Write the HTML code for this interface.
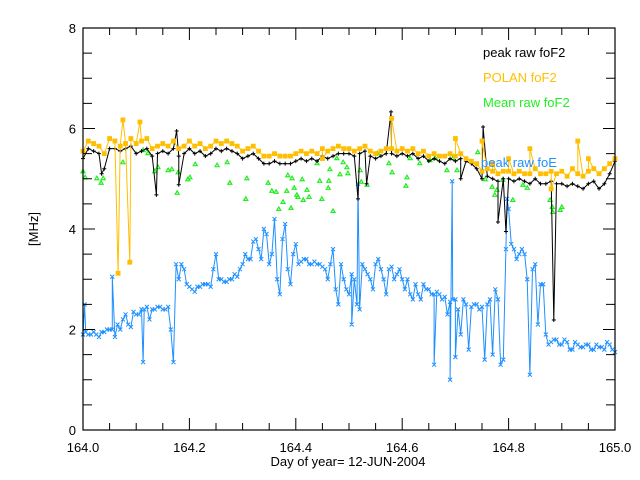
<!DOCTYPE html>
<html><head><meta charset="utf-8"><style>
html,body{margin:0;padding:0;background:#fff;}
svg{display:block;font-family:"Liberation Sans",sans-serif;}
</style></head><body>
<svg id="chart" width="640" height="480" viewBox="0 0 640 480" xmlns="http://www.w3.org/2000/svg">
<rect x="0" y="0" width="640" height="480" fill="#fff"/>
<g id="series"></g>
<g id="axes"></g>
<text x="348" y="466" font-size="13" text-anchor="middle" fill="#000">Day of year= 12-JUN-2004</text>
<text x="0" y="0" font-size="13" text-anchor="middle" fill="#000" transform="translate(38,229) rotate(-90)">[MHz]</text>
<text x="483" y="57" font-size="13" fill="#000">peak raw foF2</text>
<text x="483" y="82" font-size="13" fill="#ffbf00">POLAN foF2</text>
<text x="483" y="107" font-size="13" fill="#22ee22">Mean raw foF2</text>
<text x="481" y="167" font-size="13" fill="#1e90ff">peak raw foE</text>
</svg>
<script>
// ---- data ----
const xStart = 164.0;
const xStep = 0.01;
const xTickLabels = ["164.0","164.2","164.4","164.6","164.8","165.0"];
const yTickLabels = ["0","2","4","6","8"];
const blackBase = [5.4,5.6,5.55,5.5,5.2,5.6,5.6,5.55,5.6,5.65,5.5,5.55,5.6,5.45,5.5,5.55,5.5,5.6,5.45,5.5,5.6,5.5,5.55,5.45,5.5,5.6,5.55,5.6,5.55,5.5,5.4,5.45,5.5,5.4,5.3,5.3,5.35,5.3,5.3,5.3,5.35,5.4,5.35,5.4,5.35,5.45,5.4,5.45,5.5,5.5,5.5,5.45,5.5,5.55,5.45,5.4,5.45,5.5,5.5,5.45,5.5,5.45,5.5,5.4,5.45,5.35,5.4,5.35,5.3,5.4,5.35,5.4,5.35,5.3,5.2,5.0,5.05,5.0,4.95,5.0,5.0,4.95,5.0,4.95,4.9,5.0,4.9,4.9,4.95,4.9,4.9,4.85,4.9,4.85,4.8,4.9,4.95,4.8,4.9,5.1,5.35];
const blackSpikeDays = [164.035,164.138,164.176,164.18,164.517,164.533,164.579,164.71,164.752,164.78,164.795,164.885];
const blackSpikeVals = [5.1,4.68,5.95,4.88,4.6,4.9,6.33,5.0,6.03,4.14,3.95,2.19];
const orangeBase = [5.55,5.75,5.7,5.65,5.5,5.8,5.75,5.65,5.7,5.8,5.7,5.75,5.8,5.6,5.65,5.7,5.65,5.75,5.6,5.65,5.75,5.65,5.7,5.6,5.65,5.75,5.7,5.75,5.7,5.65,5.55,5.6,5.65,5.55,5.45,5.45,5.5,5.45,5.45,5.45,5.5,5.55,5.5,5.55,5.5,5.6,5.55,5.6,5.65,5.6,5.6,5.55,5.6,5.65,5.55,5.5,5.55,5.6,5.6,5.55,5.6,5.55,5.6,5.5,5.55,5.45,5.5,5.45,5.45,5.5,5.45,5.5,5.4,5.35,5.3,5.15,5.2,5.15,5.1,5.15,5.15,5.1,5.15,5.1,5.1,5.2,5.1,5.1,5.15,5.1,5.15,5.05,5.2,5.1,5.05,5.15,5.2,5.1,5.2,5.3,5.4];
const orangeSpikeDays = [164.066,164.075,164.088,164.107,164.45,164.58,164.7,164.75,164.77,164.8,164.84,164.88,164.93,164.95];
const orangeSpikeVals = [3.12,6.17,3.34,6.13,5.4,6.2,5.8,5.75,5.3,5.4,5.6,4.8,5.75,5.4];
const blueBase = [1.9,1.9,1.95,1.85,1.95,2.0,1.85,2.0,2.3,2.05,2.3,2.4,2.45,2.4,2.45,2.4,2.45,1.35,3.0,3.2,2.85,2.75,2.85,2.9,2.85,3.5,3.0,2.95,3.0,3.05,3.3,3.4,3.75,3.6,4.0,3.3,4.2,2.7,4.1,2.9,3.7,3.35,3.4,3.3,3.3,3.25,3.0,3.6,2.5,3.0,2.7,3.0,2.4,3.2,3.0,3.3,3.2,2.7,3.25,3.1,3.0,3.0,2.6,2.7,2.9,2.8,2.7,2.7,2.65,2.55,2.6,1.9,2.5,2.45,2.5,2.45,2.5,1.5,2.6,1.4,4.4,3.6,3.5,3.5,1.1,3.3,2.9,1.9,1.75,1.8,1.7,1.75,1.6,1.7,1.65,1.7,1.6,1.65,1.6,1.7,1.55];
const blueMid = [1.95,1.9,1.9,1.95,2.0,2.0,2.1,2.2,2.1,2.35,2.3,2.4,2.2,2.4,2.45,2.4,2.0,3.3,3.3,2.9,2.8,2.85,2.9,2.9,3.2,3.0,2.95,3.0,3.1,3.2,3.5,3.4,3.8,3.4,3.9,3.5,3.0,3.8,3.2,3.5,3.3,3.4,3.3,3.35,3.3,3.2,3.3,2.8,3.3,2.8,3.1,2.5,3.3,3.1,2.8,3.4,3.0,3.2,3.0,3.2,2.8,2.7,2.9,2.6,2.8,2.7,2.75,2.6,2.3,2.6,2.4,2.6,1.6,2.5,2.4,1.4,2.6,2.8,1.3,3.6,3.7,3.4,3.6,3.0,3.2,2.1,2.9,1.7,1.8,1.7,1.8,1.6,1.75,1.65,1.7,1.6,1.7,1.65,1.75,1.6];
const blueSpikeDays = [164.003,164.055,164.113,164.505,164.517,164.66,164.69,164.694,164.70,164.797];
const blueSpikeVals = [2.5,3.05,1.35,2.1,4.9,1.3,1.0,4.95,1.45,4.6];
const greenDays = [164.0,164.004,164.026,164.034,164.038,164.075,164.113,164.122,164.135,164.141,164.16,164.167,164.177,164.179,164.197,164.201,164.211,164.252,164.271,164.276,164.306,164.308,164.348,164.355,164.363,164.368,164.376,164.383,164.385,164.391,164.393,164.397,164.402,164.404,164.412,164.414,164.421,164.425,164.44,164.445,164.449,164.461,164.462,164.464,164.47,164.477,164.483,164.489,164.496,164.498,164.521,164.523,164.534,164.553,164.575,164.581,164.607,164.609,164.615,164.633,164.652,164.662,164.684,164.695,164.703,164.742,164.756,164.769,164.774,164.778,164.789,164.808,164.827,164.835,164.878,164.882,164.883,164.897,164.9];
const greenVals = [5.15,5.03,5.01,4.92,5.01,5.33,5.57,5.51,5.15,5.23,5.17,5.19,4.72,5.13,4.99,5.03,5.29,5.27,5.33,4.92,4.6,5.01,4.92,4.76,4.74,4.4,4.54,4.76,5.07,4.42,5.01,4.82,4.68,4.64,4.99,4.58,4.78,4.64,5.31,4.96,4.6,4.82,4.96,5.19,4.36,5.41,5.09,5.33,5.23,5.11,5.17,4.94,4.88,5.51,5.31,5.13,4.86,5.03,5.41,5.31,5.37,5.41,5.17,5.41,5.17,5.53,4.99,4.84,4.68,4.78,4.98,4.58,4.88,4.82,4.58,4.44,4.34,4.38,4.44];

// ---- scales ----
const X0=83,X1=615,Y0=430,Y1=28;
const xScale = d => X0 + (d-164.0)/(165.0-164.0)*(X1-X0);
const yScale = v => Y0 - v/8*(Y0-Y1);
const NS="http://www.w3.org/2000/svg";
const series=document.getElementById('series');
const axes=document.getElementById('axes');

function merge(base, sd, sv, mid){
  const pts = base.map((v,i)=>[xStart+i*xStep, v]);
  if(mid) mid.forEach((v,i)=>pts.push([xStart+(i+0.5)*xStep, v]));
  sd.forEach((d,i)=>pts.push([d, sv[i]]));
  pts.sort((a,b)=>a[0]-b[0]);
  return pts;
}
function drawLine(pts, color, name){
  const p=document.createElementNS(NS,'polyline');
  p.setAttribute('points', pts.map(q=>xScale(q[0]).toFixed(1)+','+yScale(q[1]).toFixed(1)).join(' '));
  p.setAttribute('fill','none'); p.setAttribute('stroke',color); p.setAttribute('stroke-width','1');
  
  
  series.appendChild(p);
}
function drawMarkers(pts, color, kind, name){
  const g=document.createElementNS(NS,'path');
  let d='';
  pts.forEach(q=>{
    const x=xScale(q[0]), y=yScale(q[1]);
    if(kind==='plus') d+=`M${x-2},${y}h4M${x},${y-2}v4`;
    else if(kind==='x') d+=`M${x-2},${y-2}l4,4M${x-2},${y+2}l4,-4`;
    else if(kind==='sq') d+=`M${x-2},${y-2}h4v4h-4z`;
    else if(kind==='tri') d+=`M${x-2},${y+1.5}L${x},${y-2}L${x+2},${y+1.5}z`;
  });
  g.setAttribute('d', d);
  if(kind==='sq'){ g.setAttribute('fill',color); g.setAttribute('stroke',color); g.setAttribute('stroke-width','0.8'); }
  else if(kind==='tri'){ g.setAttribute('fill','none'); g.setAttribute('stroke',color); g.setAttribute('stroke-width','1.2'); }
  else { g.setAttribute('fill','none'); g.setAttribute('stroke',color); g.setAttribute('stroke-width','1'); }
  
  
  series.appendChild(g);
}

const bluePts = merge(blueBase, blueSpikeDays, blueSpikeVals, blueMid);
drawLine(bluePts, '#1e90ff', 'foe-line');
drawMarkers(bluePts, '#1e90ff', 'x', 'foe-markers');
const greenPts = greenDays.map((d,i)=>[d, greenVals[i]]);
drawMarkers(greenPts, '#22ee22', 'tri', 'mean-fof2-markers');
const blackPts = merge(blackBase, blackSpikeDays, blackSpikeVals);
drawLine(blackPts, '#000', 'peak-fof2-line');
drawMarkers(blackPts, '#000', 'plus', 'peak-fof2-markers');
const orangePts = merge(orangeBase, orangeSpikeDays, orangeSpikeVals);
drawLine(orangePts, '#ffbf00', 'polan-fof2-line');
drawMarkers(orangePts, '#ffbf00', 'sq', 'polan-fof2-markers');

// ---- axes ----
const box=document.createElementNS(NS,'rect');
box.setAttribute('x',X0); box.setAttribute('y',Y1); box.setAttribute('width',X1-X0); box.setAttribute('height',Y0-Y1);
box.setAttribute('fill','none'); box.setAttribute('stroke','#000'); box.setAttribute('stroke-width','1.2');


axes.appendChild(box);
let td='';
for(let k=0;k<=20;k++){
  const x=xScale(164+k*0.05); const L=(k%4===0)?12:7;
  td+=`M${x},${Y0}v${-L}M${x},${Y1}v${L}`;
}
for(let k=0;k<=16;k++){
  const y=yScale(k*0.5); const L=(k%4===0)?12:9;
  td+=`M${X0},${y}h${L}M${X1},${y}h${-L}`;
}
const ticks=document.createElementNS(NS,'path');
ticks.setAttribute('d',td); ticks.setAttribute('stroke','#000'); ticks.setAttribute('stroke-width','1');


axes.appendChild(ticks);
xTickLabels.forEach((s,i)=>{
  const t=document.createElementNS(NS,'text');
  t.setAttribute('x',xScale(parseFloat(s))); t.setAttribute('y',452);
  t.setAttribute('font-size','13'); t.setAttribute('text-anchor','middle');
  t.textContent=s;
  
  
  axes.appendChild(t);
});
yTickLabels.forEach((s,i)=>{
  const t=document.createElementNS(NS,'text');
  t.setAttribute('x',76); t.setAttribute('y',yScale(parseFloat(s))+5);
  t.setAttribute('font-size','13'); t.setAttribute('text-anchor','end');
  t.textContent=s;
  
  
  axes.appendChild(t);
});
</script>
</body></html>
